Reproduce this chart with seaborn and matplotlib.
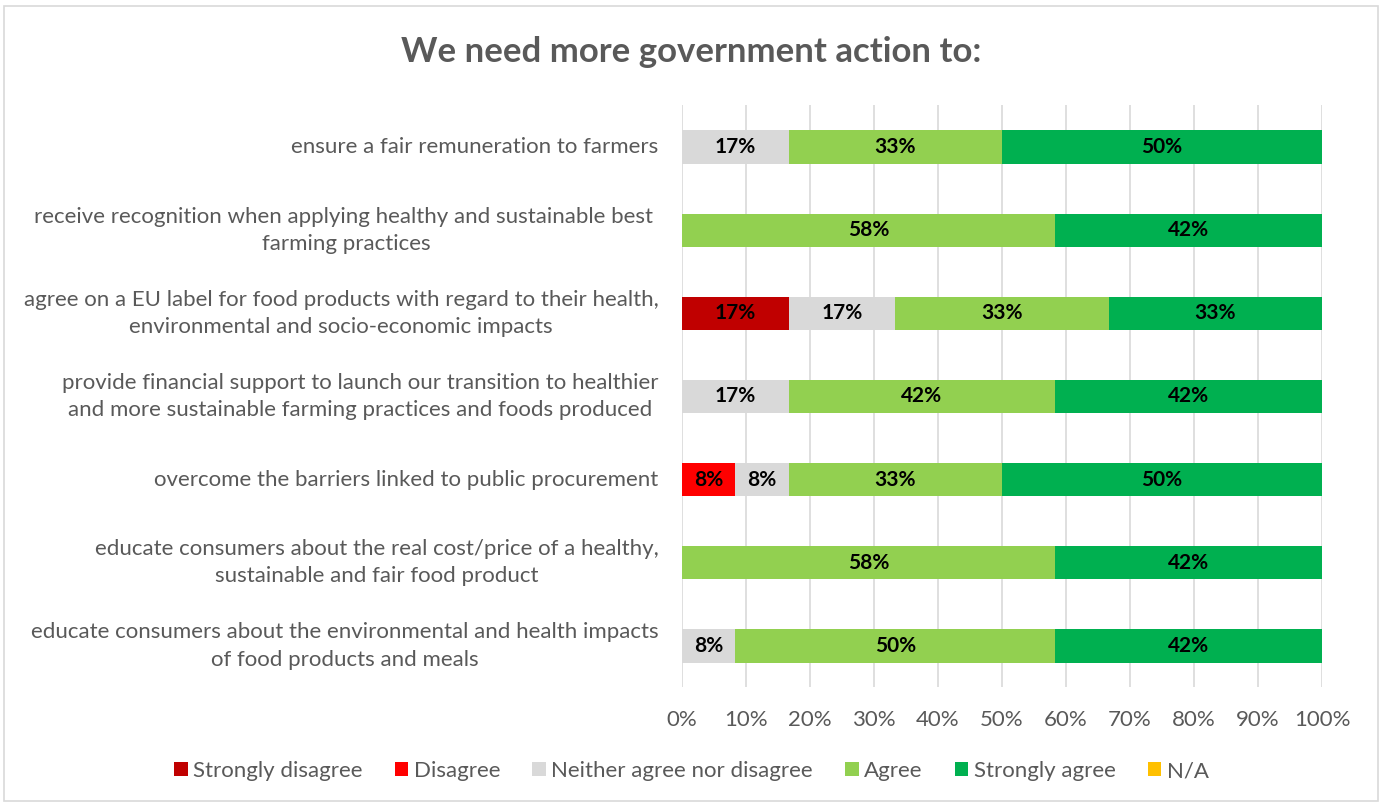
import numpy as np
import pandas as pd
import seaborn as sns
import matplotlib
matplotlib.use("Agg")
import matplotlib.pyplot as plt
from matplotlib.patches import Rectangle, Patch
from matplotlib.ticker import PercentFormatter

# Survey statements (top to bottom)
statements = [
    "ensure a fair remuneration to farmers",
    "receive recognition when applying healthy and sustainable best \nfarming practices",
    "agree on a EU label for food products with regard to their health,\nenvironmental and socio-economic impacts",
    "provide financial support to launch our transition to healthier\nand more sustainable farming practices and foods produced",
    "overcome the barriers linked to public procurement",
    "educate consumers about the real cost/price of a healthy,\nsustainable and fair food product",
    "educate consumers about the environmental and health impacts\nof food products and meals",
]

# Number of respondents per answer (12 respondents in total)
n_respondents = 12
strongly_disagree = [0, 0, 2, 0, 0, 0, 0]
disagree = [0, 0, 0, 0, 1, 0, 0]
neither = [2, 0, 2, 2, 1, 0, 1]
agree = [4, 7, 4, 5, 4, 7, 6]
strongly_agree = [6, 5, 4, 5, 6, 5, 5]
not_applicable = [0, 0, 0, 0, 0, 0, 0]

answers = ["Strongly disagree", "Disagree", "Neither agree nor disagree",
           "Agree", "Strongly agree", "N/A"]
colors = ["#C00000", "#FF0000", "#D9D9D9", "#92D050", "#00B050", "#FFC000"]

counts = np.array([strongly_disagree, disagree, neither, agree,
                   strongly_agree, not_applicable], dtype=float)
shares = counts / n_respondents          # shape (answers, statements)
cumulative = np.cumsum(shares, axis=0)   # right edge of each segment

sns.set_theme(style="white")
plt.rcParams["font.family"] = ["Lato", "DejaVu Sans"]

text_gray = "#595959"
grid_gray = "#D9D9D9"

fig = plt.figure(figsize=(13.83, 8.07), dpi=100)
ax = fig.add_axes([0.4931, 0.1481, 0.9559 - 0.4931, 0.8693 - 0.1481])

# Stacked bars: draw cumulative totals from the last answer to the first
for i in range(len(answers) - 1, -1, -1):
    df = pd.DataFrame({"statement": statements, "value": cumulative[i]})
    sns.barplot(data=df, y="statement", x="value", orient="h",
                color=colors[i], saturation=1, width=0.4, ax=ax,
                linewidth=0, zorder=3)

# Segment labels
for i in range(len(answers)):
    for j in range(len(statements)):
        v = shares[i, j]
        if v > 0:
            left = cumulative[i, j] - v
            ax.text(left + v / 2, j, f"{v:.0%}", ha="center", va="center",
                    fontsize=15, fontweight="bold", color="black", zorder=4)

ax.set_xlim(0, 1)
ax.set_ylim(len(statements) - 0.5, -0.5)
ax.set_xticks(np.arange(0, 1.01, 0.1))
ax.xaxis.set_major_formatter(PercentFormatter(1.0, decimals=0))
ax.set_xlabel("")
ax.set_ylabel("")
ax.grid(axis="x", color=grid_gray, linewidth=1.2, zorder=0)
ax.grid(axis="y", visible=False)
ax.set_axisbelow(True)
for s in ax.spines.values():
    s.set_visible(False)

ax.tick_params(axis="x", length=0, pad=16, labelsize=16, labelcolor=text_gray)
ax.tick_params(axis="y", length=0, pad=17, labelsize=16, labelcolor=text_gray)
for lbl in ax.get_yticklabels():
    lbl.set_multialignment("center")
    lbl.set_linespacing(1.45)
    lbl.set_verticalalignment("center")

fig.suptitle("We need more government action to:", x=0.5, y=1 - 52 / 807,
             va="center", fontsize=25, fontweight="bold", color=text_gray)

handles = [Patch(facecolor=c, edgecolor="none", label=a)
           for a, c in zip(answers, colors)]
fig.legend(handles=handles, loc="center", bbox_to_anchor=(0.5, 1 - 771 / 807),
           ncol=6, frameon=False, fontsize=16, labelcolor=text_gray,
           handlelength=0.6, handleheight=0.6, handletextpad=0.25,
           columnspacing=1.45)

# Chart area border
fig.patches.append(Rectangle((4 / 1383, 6 / 807), 1 - 9 / 1383, 1 - 12 / 807,
                             transform=fig.transFigure, fill=False,
                             edgecolor=grid_gray, linewidth=1.2))

fig.savefig("out.png", dpi=100)
